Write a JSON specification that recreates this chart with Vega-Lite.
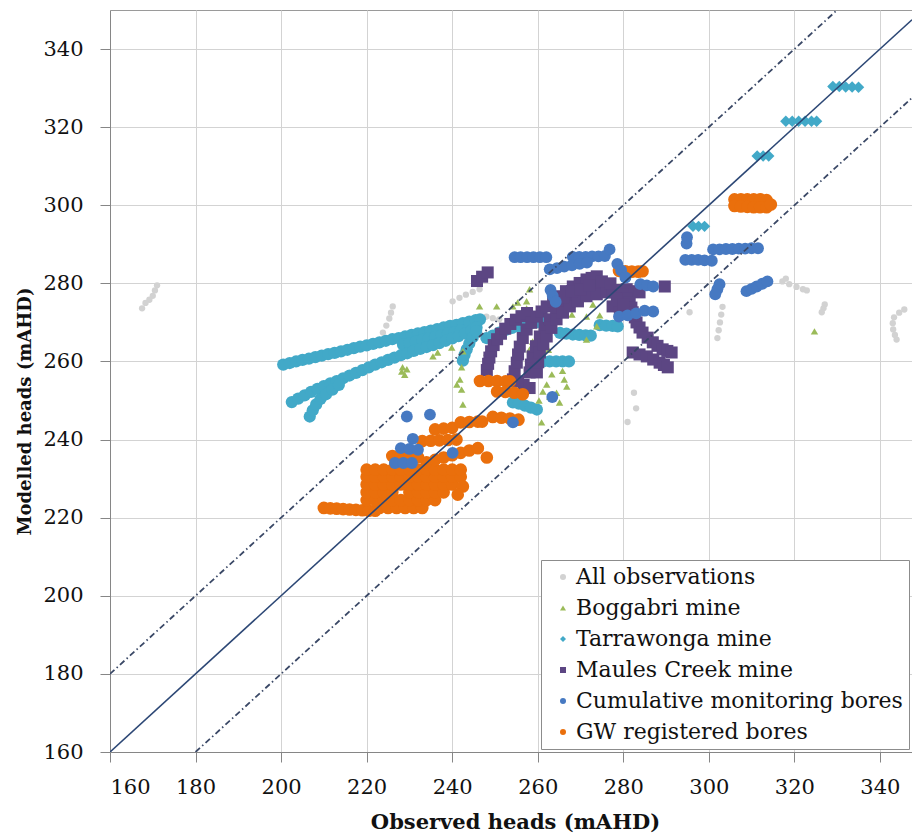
{
  "$schema": "https://vega.github.io/schema/vega-lite/v6.json",
  "width": 802,
  "height": 742,
  "autosize": {"type": "none"},
  "padding": {"left": 110, "top": 10, "right": 0, "bottom": 87},
  "background": "white",
  "config": {
    "view": {"stroke": "#9a9a9a", "strokeWidth": 1},
    "font": "DejaVu Serif",
    "legend": {
      "labelFont": "DejaVu Serif", "labelFontSize": 22, "labelColor": "#111111", "labelLimit": 400,
      "symbolSize": 36, "rowPadding": 9, "labelOffset": 2, "symbolOffset": 5, "padding": 6,
      "fillColor": "white", "strokeColor": "#8c8c8c"
    }
  },
  "datasets": {
    "points": [
      {"series":"A","obs":171,"mod":279.5},{"series":"A","obs":170.5,"mod":278.2},{"series":"A","obs":170,"mod":276.8},{"series":"A","obs":169.2,"mod":275.8},{"series":"A","obs":168.3,"mod":275},{"series":"A","obs":167.5,"mod":273.6},
      {"series":"A","obs":226.1,"mod":274.1},{"series":"A","obs":225.7,"mod":272.5},{"series":"A","obs":225.3,"mod":271},{"series":"A","obs":224.6,"mod":269.2},{"series":"A","obs":223.8,"mod":267.4},
      {"series":"A","obs":240.1,"mod":275.4},{"series":"A","obs":241.7,"mod":276.3},{"series":"A","obs":243.2,"mod":277.1},{"series":"A","obs":244.8,"mod":277.8},{"series":"A","obs":246.4,"mod":278.5},
      {"series":"A","obs":248,"mod":271.5},{"series":"A","obs":249.5,"mod":271.1},{"series":"A","obs":251,"mod":270.8},
      {"series":"A","obs":317.2,"mod":280.5},{"series":"A","obs":318.8,"mod":279.8},{"series":"A","obs":320.5,"mod":279.1},{"series":"A","obs":322,"mod":278.5},{"series":"A","obs":322.9,"mod":278.2},{"series":"A","obs":318,"mod":281.2},
      {"series":"A","obs":303.2,"mod":274},{"series":"A","obs":302.9,"mod":272},{"series":"A","obs":302.6,"mod":270},{"series":"A","obs":302.3,"mod":268},{"series":"A","obs":302,"mod":266},
      {"series":"A","obs":327.1,"mod":274.6},{"series":"A","obs":326.8,"mod":273.6},{"series":"A","obs":326.4,"mod":272.6},
      {"series":"A","obs":345.7,"mod":273.3},{"series":"A","obs":344.5,"mod":272.5},{"series":"A","obs":343.3,"mod":271.3},{"series":"A","obs":343,"mod":269.8},{"series":"A","obs":343.1,"mod":268.2},{"series":"A","obs":343.5,"mod":266.8},{"series":"A","obs":343.9,"mod":265.6},
      {"series":"A","obs":295.5,"mod":272.6},{"series":"A","obs":282.5,"mod":252},{"series":"A","obs":283,"mod":248},{"series":"A","obs":281,"mod":244.5},

      {"series":"T","obs":200.5,"mod":259.2},{"series":"T","obs":202,"mod":259.6},{"series":"T","obs":203.5,"mod":260.0},{"series":"T","obs":205,"mod":260.4},{"series":"T","obs":206.5,"mod":260.7},{"series":"T","obs":208,"mod":261.1},{"series":"T","obs":209.5,"mod":261.5},{"series":"T","obs":211,"mod":261.9},{"series":"T","obs":212.5,"mod":262.2},{"series":"T","obs":214,"mod":262.6},{"series":"T","obs":215.5,"mod":263.0},{"series":"T","obs":217,"mod":263.4},{"series":"T","obs":218.5,"mod":263.8},{"series":"T","obs":220,"mod":264.1},{"series":"T","obs":221.5,"mod":264.5},{"series":"T","obs":223,"mod":264.9},{"series":"T","obs":224.5,"mod":265.3},{"series":"T","obs":226,"mod":265.7},{"series":"T","obs":227.5,"mod":266.0},{"series":"T","obs":229,"mod":266.4},{"series":"T","obs":230.5,"mod":266.8},{"series":"T","obs":232,"mod":267.2},{"series":"T","obs":233.5,"mod":267.5},{"series":"T","obs":235,"mod":267.9},{"series":"T","obs":236.5,"mod":268.3},{"series":"T","obs":238,"mod":268.7},{"series":"T","obs":239.5,"mod":269.1},{"series":"T","obs":241,"mod":269.4},{"series":"T","obs":242.5,"mod":269.8},{"series":"T","obs":244,"mod":270.2},{"series":"T","obs":245.5,"mod":270.6},{"series":"T","obs":246.5,"mod":270.8},
      {"series":"T","obs":228.5,"mod":264.3},{"series":"T","obs":230,"mod":264.7},{"series":"T","obs":231.5,"mod":265.1},{"series":"T","obs":233,"mod":265.5},{"series":"T","obs":234.5,"mod":265.9},{"series":"T","obs":236,"mod":266.3},{"series":"T","obs":237.5,"mod":266.7},{"series":"T","obs":239,"mod":267.1},{"series":"T","obs":240.5,"mod":267.5},{"series":"T","obs":242,"mod":268.0},
      {"series":"T","obs":202.5,"mod":249.6},{"series":"T","obs":204,"mod":250.5},{"series":"T","obs":205.5,"mod":251.3},{"series":"T","obs":207,"mod":252.2},{"series":"T","obs":208.5,"mod":253.0},{"series":"T","obs":210,"mod":253.7},{"series":"T","obs":211.5,"mod":254.4},{"series":"T","obs":213,"mod":255.0},{"series":"T","obs":214.5,"mod":255.7},{"series":"T","obs":216,"mod":256.4},{"series":"T","obs":217.5,"mod":257.1},{"series":"T","obs":219,"mod":257.8},{"series":"T","obs":220.5,"mod":258.5},{"series":"T","obs":222,"mod":259.2},{"series":"T","obs":223.5,"mod":259.8},{"series":"T","obs":225,"mod":260.4},{"series":"T","obs":226.5,"mod":261.0},{"series":"T","obs":228,"mod":261.6},{"series":"T","obs":229.5,"mod":262.1},{"series":"T","obs":231,"mod":262.7},{"series":"T","obs":232.5,"mod":263.2},{"series":"T","obs":234,"mod":263.7},{"series":"T","obs":235.5,"mod":264.2},{"series":"T","obs":237,"mod":264.7},{"series":"T","obs":238.5,"mod":265.3},{"series":"T","obs":240,"mod":265.9},{"series":"T","obs":241.5,"mod":266.5},{"series":"T","obs":243,"mod":267.2},{"series":"T","obs":244.5,"mod":268.0},{"series":"T","obs":245.7,"mod":268.7},
      {"series":"T","obs":206.7,"mod":245.9},{"series":"T","obs":207.4,"mod":247.5},{"series":"T","obs":208.2,"mod":249},{"series":"T","obs":209.2,"mod":250.4},{"series":"T","obs":210.5,"mod":251.6},{"series":"T","obs":212,"mod":252.8},{"series":"T","obs":213.5,"mod":254},
      {"series":"T","obs":242.5,"mod":260.2},{"series":"T","obs":242.9,"mod":261.7},{"series":"T","obs":243.4,"mod":263.1},{"series":"T","obs":244,"mod":264.6},{"series":"T","obs":244.8,"mod":266.2},{"series":"T","obs":245.6,"mod":267.8},
      {"series":"T","obs":248,"mod":266},{"series":"T","obs":249.5,"mod":266.6},{"series":"T","obs":251,"mod":267.4},{"series":"T","obs":252.5,"mod":268.1},{"series":"T","obs":254,"mod":268.6},{"series":"T","obs":255.5,"mod":269},{"series":"T","obs":257,"mod":269.4},{"series":"T","obs":258.5,"mod":269.8},{"series":"T","obs":260,"mod":270.1},{"series":"T","obs":261.5,"mod":270.3},{"series":"T","obs":262.5,"mod":270.5},
      {"series":"T","obs":264.4,"mod":274.1},{"series":"T","obs":265.8,"mod":274.9},{"series":"T","obs":267.2,"mod":275.7},{"series":"T","obs":268.6,"mod":276.4},{"series":"T","obs":270,"mod":277},{"series":"T","obs":271.4,"mod":277.6},{"series":"T","obs":272.8,"mod":278.2},{"series":"T","obs":274.2,"mod":278.8},{"series":"T","obs":275.6,"mod":279.3},{"series":"T","obs":276.6,"mod":279.6},
      {"series":"T","obs":265.2,"mod":267.3},{"series":"T","obs":266.7,"mod":267.1},{"series":"T","obs":268.2,"mod":266.9},{"series":"T","obs":269.7,"mod":266.8},{"series":"T","obs":271.2,"mod":266.7},{"series":"T","obs":272.4,"mod":266.6},{"series":"T","obs":274.5,"mod":269.3},{"series":"T","obs":276,"mod":269.2},{"series":"T","obs":277.5,"mod":269.1},{"series":"T","obs":278.7,"mod":269},
      {"series":"T","obs":259.8,"mod":260},{"series":"T","obs":261.3,"mod":260},{"series":"T","obs":262.8,"mod":260},{"series":"T","obs":264.3,"mod":260},{"series":"T","obs":265.8,"mod":260},{"series":"T","obs":267.3,"mod":260},
      {"series":"T","obs":254.2,"mod":249.5},{"series":"T","obs":255.6,"mod":249.2},{"series":"T","obs":257,"mod":248.7},{"series":"T","obs":258.4,"mod":248.2},{"series":"T","obs":259.8,"mod":247.7},
      {"series":"T","obs":329,"mod":330.4},{"series":"T","obs":330.5,"mod":330.4},{"series":"T","obs":332,"mod":330.3},{"series":"T","obs":333.5,"mod":330.3},{"series":"T","obs":335,"mod":330.2},
      {"series":"T","obs":318,"mod":321.5},{"series":"T","obs":319.5,"mod":321.5},{"series":"T","obs":321,"mod":321.5},{"series":"T","obs":322.5,"mod":321.5},{"series":"T","obs":324,"mod":321.5},{"series":"T","obs":325.2,"mod":321.5},
      {"series":"T","obs":311.3,"mod":312.6},{"series":"T","obs":312.7,"mod":312.6},{"series":"T","obs":314,"mod":312.6},
      {"series":"T","obs":296.3,"mod":294.6},{"series":"T","obs":297.6,"mod":294.6},{"series":"T","obs":299,"mod":294.6},

      {"series":"B","obs":246.4,"mod":274.1},{"series":"B","obs":250.4,"mod":274.1},{"series":"B","obs":254.2,"mod":274.1},{"series":"B","obs":255.3,"mod":275.1},{"series":"B","obs":257.4,"mod":275.4},{"series":"B","obs":257.4,"mod":273.6},{"series":"B","obs":258.1,"mod":278.5},
      {"series":"B","obs":235.5,"mod":261.3},{"series":"B","obs":236.6,"mod":262.3},{"series":"B","obs":239.9,"mod":263.6},{"series":"B","obs":242.5,"mod":262.6},
      {"series":"B","obs":228.2,"mod":257.4},{"series":"B","obs":228.9,"mod":256.6},{"series":"B","obs":229.4,"mod":258},{"series":"B","obs":228.4,"mod":258.5},
      {"series":"B","obs":242.2,"mod":258.5},{"series":"B","obs":241.8,"mod":255.4},{"series":"B","obs":241.1,"mod":254.1},{"series":"B","obs":242.2,"mod":252.8},{"series":"B","obs":242.5,"mod":249},{"series":"B","obs":248.1,"mod":262.3},
      {"series":"B","obs":258.8,"mod":265.1},{"series":"B","obs":258.1,"mod":263.1},{"series":"B","obs":259.3,"mod":261.8},{"series":"B","obs":261,"mod":262.5},{"series":"B","obs":262.5,"mod":263},
      {"series":"B","obs":263.3,"mod":256.7},{"series":"B","obs":262.1,"mod":254.1},{"series":"B","obs":261.2,"mod":252.3},{"series":"B","obs":260.3,"mod":250},{"series":"B","obs":260.9,"mod":244.4},{"series":"B","obs":262.8,"mod":251},
      {"series":"B","obs":265.8,"mod":257.6},{"series":"B","obs":266.2,"mod":255.4},{"series":"B","obs":266.8,"mod":253.6},{"series":"B","obs":265.1,"mod":249.5},{"series":"B","obs":264.4,"mod":252},
      {"series":"B","obs":271.4,"mod":271.5},{"series":"B","obs":272.9,"mod":274.6},{"series":"B","obs":273.8,"mod":269},{"series":"B","obs":274.5,"mod":271.8},{"series":"B","obs":271.4,"mod":265.6},{"series":"B","obs":268,"mod":272},
      {"series":"B","obs":324.7,"mod":267.7},

      {"series":"M","obs":245.8,"mod":280.6},{"series":"M","obs":247,"mod":281.7},{"series":"M","obs":248.3,"mod":282.8},
      {"series":"M","obs":248.1,"mod":257.8},{"series":"M","obs":248.4,"mod":259.4},{"series":"M","obs":248.7,"mod":261},{"series":"M","obs":249.1,"mod":262.6},{"series":"M","obs":249.7,"mod":264.2},{"series":"M","obs":250.5,"mod":265.7},{"series":"M","obs":251.4,"mod":267.1},{"series":"M","obs":252.4,"mod":268.4},{"series":"M","obs":253.6,"mod":269.6},{"series":"M","obs":254.9,"mod":270.7},{"series":"M","obs":256.2,"mod":271.6},{"series":"M","obs":257.5,"mod":272.4},
      {"series":"M","obs":254.2,"mod":255.4},{"series":"M","obs":254.6,"mod":257.5},{"series":"M","obs":255.1,"mod":259.7},{"series":"M","obs":255.4,"mod":261.8},{"series":"M","obs":255.8,"mod":263.8},{"series":"M","obs":256.5,"mod":266},{"series":"M","obs":257.4,"mod":268.2},{"series":"M","obs":258.5,"mod":269.9},{"series":"M","obs":259.8,"mod":271.5},{"series":"M","obs":260.9,"mod":272.8},{"series":"M","obs":262.1,"mod":274.1},{"series":"M","obs":263.6,"mod":275.4},{"series":"M","obs":265.1,"mod":276.7},{"series":"M","obs":266.6,"mod":278},{"series":"M","obs":268.2,"mod":279.2},{"series":"M","obs":269.8,"mod":280.1},{"series":"M","obs":271.4,"mod":281},{"series":"M","obs":272.6,"mod":281.4},{"series":"M","obs":273.8,"mod":281.8},
      {"series":"M","obs":255.4,"mod":254.9},{"series":"M","obs":256.7,"mod":254},{"series":"M","obs":258.1,"mod":253.2},
      {"series":"M","obs":258.1,"mod":257.2},{"series":"M","obs":258.4,"mod":259.2},{"series":"M","obs":258.8,"mod":261.3},{"series":"M","obs":259.6,"mod":263.9},{"series":"M","obs":260.5,"mod":266.4},{"series":"M","obs":261.6,"mod":268.6},{"series":"M","obs":262.8,"mod":270.8},{"series":"M","obs":264.3,"mod":272.5},{"series":"M","obs":265.8,"mod":274.1},{"series":"M","obs":267.4,"mod":275.4},{"series":"M","obs":269.1,"mod":276.7},{"series":"M","obs":271,"mod":277.3},{"series":"M","obs":272.9,"mod":277.9},{"series":"M","obs":274.5,"mod":278.5},{"series":"M","obs":276.1,"mod":279},
      {"series":"M","obs":259.8,"mod":257.2},{"series":"M","obs":260.1,"mod":259.8},{"series":"M","obs":260.5,"mod":262.3},{"series":"M","obs":261.3,"mod":264.4},{"series":"M","obs":262.1,"mod":266.4},{"series":"M","obs":263.2,"mod":268.6},{"series":"M","obs":264.4,"mod":270.8},{"series":"M","obs":265.9,"mod":272.5},{"series":"M","obs":267.5,"mod":274.1},{"series":"M","obs":269.4,"mod":275.4},{"series":"M","obs":271.4,"mod":276.7},{"series":"M","obs":273.8,"mod":277.2},{"series":"M","obs":276.1,"mod":277.7},
      {"series":"M","obs":277.5,"mod":277.7},{"series":"M","obs":279.2,"mod":278.3},{"series":"M","obs":280.8,"mod":278.5},{"series":"M","obs":282.3,"mod":278},{"series":"M","obs":283.8,"mod":277.7},{"series":"M","obs":279.9,"mod":277.2},{"series":"M","obs":280.8,"mod":276.2},{"series":"M","obs":281.5,"mod":275.1},{"series":"M","obs":281.9,"mod":273.8},{"series":"M","obs":282.2,"mod":272.6},{"series":"M","obs":282.7,"mod":271.3},{"series":"M","obs":283.1,"mod":270},{"series":"M","obs":283.8,"mod":268.7},{"series":"M","obs":284.5,"mod":267.4},{"series":"M","obs":285.7,"mod":266.1},{"series":"M","obs":286.9,"mod":264.9},{"series":"M","obs":288,"mod":264},{"series":"M","obs":289.2,"mod":263.1},{"series":"M","obs":290.3,"mod":262.7},{"series":"M","obs":291.3,"mod":262.3},
      {"series":"M","obs":282.2,"mod":262.3},{"series":"M","obs":283.8,"mod":261.8},{"series":"M","obs":285.5,"mod":261.3},{"series":"M","obs":287,"mod":260.5},{"series":"M","obs":288.5,"mod":259.7},{"series":"M","obs":289.5,"mod":259.1},{"series":"M","obs":290.4,"mod":258.5},
      {"series":"M","obs":277.5,"mod":274.1},{"series":"M","obs":279.2,"mod":272.6},{"series":"M","obs":289.7,"mod":279.2},
      {"series":"M","obs":266,"mod":276.5},{"series":"M","obs":268,"mod":278},{"series":"M","obs":270,"mod":278.5},{"series":"M","obs":272,"mod":279.5},{"series":"M","obs":275,"mod":280.5},{"series":"M","obs":277,"mod":280},{"series":"M","obs":278.5,"mod":276},{"series":"M","obs":280,"mod":274.5},

      {"series":"G","obs":210,"mod":222.5},{"series":"G","obs":211.5,"mod":222.4},{"series":"G","obs":213,"mod":222.3},{"series":"G","obs":214.5,"mod":222.2},{"series":"G","obs":216,"mod":222.1},{"series":"G","obs":217.5,"mod":222},{"series":"G","obs":219,"mod":221.9},{"series":"G","obs":220.5,"mod":221.8},{"series":"G","obs":222,"mod":221.8},
      {"series":"G","obs":223,"mod":222.5},{"series":"G","obs":225,"mod":222.5},{"series":"G","obs":227,"mod":222.5},{"series":"G","obs":229,"mod":222.5},{"series":"G","obs":231,"mod":222.5},{"series":"G","obs":233,"mod":222.5},
      {"series":"G","obs":220,"mod":224.5},{"series":"G","obs":222,"mod":224.5},{"series":"G","obs":224,"mod":224.5},{"series":"G","obs":226,"mod":224.5},{"series":"G","obs":228,"mod":224.5},{"series":"G","obs":230,"mod":224.5},{"series":"G","obs":232,"mod":224.5},{"series":"G","obs":234,"mod":224.5},{"series":"G","obs":236,"mod":224.5},
      {"series":"G","obs":220,"mod":226.5},{"series":"G","obs":222,"mod":226.5},{"series":"G","obs":224,"mod":226.5},{"series":"G","obs":226,"mod":226.5},{"series":"G","obs":230,"mod":226.5},{"series":"G","obs":232,"mod":226.5},{"series":"G","obs":234,"mod":226.5},{"series":"G","obs":236,"mod":226.5},{"series":"G","obs":238,"mod":226.5},
      {"series":"G","obs":220,"mod":228.5},{"series":"G","obs":222,"mod":228.5},{"series":"G","obs":224,"mod":228.5},{"series":"G","obs":226,"mod":228.5},{"series":"G","obs":228,"mod":228.5},{"series":"G","obs":230,"mod":228.5},{"series":"G","obs":232,"mod":228.5},{"series":"G","obs":234,"mod":228.5},{"series":"G","obs":236,"mod":228.5},{"series":"G","obs":238,"mod":228.5},{"series":"G","obs":240,"mod":228.5},
      {"series":"G","obs":220,"mod":230.5},{"series":"G","obs":222,"mod":230.5},{"series":"G","obs":224,"mod":230.5},{"series":"G","obs":226,"mod":230.5},{"series":"G","obs":228,"mod":230.5},{"series":"G","obs":230,"mod":230.5},{"series":"G","obs":232,"mod":230.5},{"series":"G","obs":234,"mod":230.5},{"series":"G","obs":236,"mod":230.5},{"series":"G","obs":238,"mod":230.5},{"series":"G","obs":240,"mod":230.5},{"series":"G","obs":242,"mod":230.5},
      {"series":"G","obs":220,"mod":232.3},{"series":"G","obs":222,"mod":232.3},{"series":"G","obs":224,"mod":232.3},{"series":"G","obs":226,"mod":232.3},{"series":"G","obs":228,"mod":232.3},{"series":"G","obs":230,"mod":232.3},{"series":"G","obs":232,"mod":232.3},{"series":"G","obs":234,"mod":232.3},{"series":"G","obs":236,"mod":232.3},{"series":"G","obs":238,"mod":232.3},{"series":"G","obs":240,"mod":232.3},{"series":"G","obs":242,"mod":232.3},
      {"series":"G","obs":234,"mod":234.2},{"series":"G","obs":236,"mod":234.8},{"series":"G","obs":238,"mod":235.4},{"series":"G","obs":240,"mod":236},{"series":"G","obs":242,"mod":236.6},{"series":"G","obs":244,"mod":237.2},{"series":"G","obs":246,"mod":237.8},
      {"series":"G","obs":248.1,"mod":235.4},{"series":"G","obs":242.5,"mod":228},{"series":"G","obs":241.3,"mod":225.9},
      {"series":"G","obs":226,"mod":235.8},{"series":"G","obs":228,"mod":235.7},{"series":"G","obs":230,"mod":235.6},{"series":"G","obs":232,"mod":235.5},
      {"series":"G","obs":233,"mod":239.6},{"series":"G","obs":235,"mod":239.7},{"series":"G","obs":237,"mod":239.8},{"series":"G","obs":239,"mod":239.9},{"series":"G","obs":241,"mod":240},
      {"series":"G","obs":236,"mod":242.6},{"series":"G","obs":238,"mod":242.8},{"series":"G","obs":240,"mod":243},{"series":"G","obs":242,"mod":244.4},{"series":"G","obs":244,"mod":244.5},{"series":"G","obs":246,"mod":244.6},{"series":"G","obs":247,"mod":244.6},
      {"series":"G","obs":246.5,"mod":255},{"series":"G","obs":248.5,"mod":255},{"series":"G","obs":250.5,"mod":255},{"series":"G","obs":252.5,"mod":254.9},{"series":"G","obs":253.5,"mod":254.9},
      {"series":"G","obs":250.5,"mod":252.3},{"series":"G","obs":252.5,"mod":252.2},{"series":"G","obs":254.5,"mod":252},{"series":"G","obs":256.5,"mod":251.6},
      {"series":"G","obs":249.5,"mod":245.8},{"series":"G","obs":251.5,"mod":245.6},{"series":"G","obs":253.5,"mod":245.4},{"series":"G","obs":255.5,"mod":245.1},
      {"series":"G","obs":306,"mod":301.5},{"series":"G","obs":307.5,"mod":301.5},{"series":"G","obs":309,"mod":301.5},{"series":"G","obs":310.5,"mod":301.5},{"series":"G","obs":312,"mod":301.5},{"series":"G","obs":313.5,"mod":301.3},{"series":"G","obs":306,"mod":299.8},{"series":"G","obs":307.5,"mod":299.7},{"series":"G","obs":309,"mod":299.6},{"series":"G","obs":310.5,"mod":299.5},{"series":"G","obs":312,"mod":299.5},{"series":"G","obs":313.5,"mod":299.5},{"series":"G","obs":314.5,"mod":300.2},
      {"series":"G","obs":279,"mod":283.2},{"series":"G","obs":280.5,"mod":283.1},{"series":"G","obs":282,"mod":283},{"series":"G","obs":283.5,"mod":283},{"series":"G","obs":284.5,"mod":283.1},

      {"series":"C","obs":294.8,"mod":290.2},{"series":"C","obs":294.9,"mod":291.8},
      {"series":"C","obs":301,"mod":288.7},{"series":"C","obs":302.5,"mod":288.7},{"series":"C","obs":304,"mod":288.8},{"series":"C","obs":305.5,"mod":288.8},{"series":"C","obs":307,"mod":288.9},{"series":"C","obs":308.5,"mod":288.9},{"series":"C","obs":310,"mod":289},{"series":"C","obs":311.5,"mod":289},
      {"series":"C","obs":294.5,"mod":286},{"series":"C","obs":296,"mod":286},{"series":"C","obs":297.5,"mod":286},{"series":"C","obs":299,"mod":285.9},{"series":"C","obs":300.7,"mod":285.8},
      {"series":"C","obs":302.5,"mod":279.8},{"series":"C","obs":302,"mod":278.5},{"series":"C","obs":301.5,"mod":277.2},
      {"series":"C","obs":308.8,"mod":278},{"series":"C","obs":310,"mod":278.6},{"series":"C","obs":311.2,"mod":279.2},{"series":"C","obs":312.5,"mod":279.9},{"series":"C","obs":313.7,"mod":280.5},
      {"series":"C","obs":284,"mod":279.8},{"series":"C","obs":285.5,"mod":279.5},{"series":"C","obs":287,"mod":279.2},
      {"series":"C","obs":279,"mod":271.5},{"series":"C","obs":281,"mod":271.8},{"series":"C","obs":283,"mod":272.3},{"series":"C","obs":285,"mod":273},{"series":"C","obs":287,"mod":272.8},
      {"series":"C","obs":254.6,"mod":286.7},{"series":"C","obs":256,"mod":286.7},{"series":"C","obs":257.5,"mod":286.7},{"series":"C","obs":259,"mod":286.7},{"series":"C","obs":260.5,"mod":286.7},{"series":"C","obs":262,"mod":286.7},
      {"series":"C","obs":268.2,"mod":286.8},{"series":"C","obs":269.7,"mod":286.8},{"series":"C","obs":271.2,"mod":286.8},{"series":"C","obs":272.7,"mod":286.9},{"series":"C","obs":274.2,"mod":286.9},{"series":"C","obs":275.7,"mod":287},{"series":"C","obs":276.8,"mod":288.7},
      {"series":"C","obs":262.8,"mod":283.6},{"series":"C","obs":264.5,"mod":283.9},{"series":"C","obs":266.2,"mod":284.3},{"series":"C","obs":268,"mod":284.6},{"series":"C","obs":269.8,"mod":285},{"series":"C","obs":271.5,"mod":285.3},
      {"series":"C","obs":263,"mod":278.3},{"series":"C","obs":263.5,"mod":276.8},{"series":"C","obs":264.2,"mod":275.3},
      {"series":"C","obs":278.6,"mod":285},{"series":"C","obs":279.5,"mod":283.3},{"series":"C","obs":280.5,"mod":281.5},
      {"series":"C","obs":229.4,"mod":245.9},{"series":"C","obs":234.8,"mod":246.4},{"series":"C","obs":230.8,"mod":240.2},{"series":"C","obs":228,"mod":237.8},{"series":"C","obs":230,"mod":237.6},{"series":"C","obs":232,"mod":237.4},{"series":"C","obs":226.6,"mod":234},{"series":"C","obs":228.6,"mod":234},{"series":"C","obs":230.6,"mod":234},{"series":"C","obs":240.1,"mod":236.6},{"series":"C","obs":254.2,"mod":244.4},{"series":"C","obs":263.4,"mod":250.9}
    ],
    "refLines": [
      {"line":"1:1","obs":160,"mod":160},{"line":"1:1","obs":347.5,"mod":347.5},
      {"line":"+20","obs":160,"mod":180},{"line":"+20","obs":330,"mod":350},
      {"line":"-20","obs":180,"mod":160},{"line":"-20","obs":347.5,"mod":327.5}
    ]
  },
  "layer": [
    {
      "data": {"name": "points"},
      "encoding": {
        "x": {
          "field": "obs", "type": "quantitative",
          "scale": {"domain": [160, 347.5], "nice": false, "zero": false},
          "axis": {
            "values": [160, 180, 200, 220, 240, 260, 280, 300, 320, 340],
            "grid": true, "gridColor": "#d3d3d3", "gridWidth": 1,
            "domainColor": "#868686", "tickColor": "#868686", "tickSize": 10,
            "labelFont": "DejaVu Serif", "labelFontSize": 21, "labelColor": "#111111", "labelPadding": 14,
            "title": "Observed heads (mAHD)", "titleFont": "DejaVu Serif", "titleFontSize": 21, "titleFontWeight": "bold", "titleColor": "#111111",
            "titleX": 405, "titleY": 70, "titleBaseline": "middle"
          }
        },
        "y": {
          "field": "mod", "type": "quantitative",
          "scale": {"domain": [160, 350], "nice": false, "zero": false},
          "axis": {
            "values": [160, 180, 200, 220, 240, 260, 280, 300, 320, 340],
            "grid": true, "gridColor": "#d3d3d3", "gridWidth": 1,
            "domainColor": "#868686", "tickColor": "#868686", "tickSize": 10,
            "labelFont": "DejaVu Serif", "labelFontSize": 21, "labelColor": "#111111", "labelPadding": 17,
            "title": "Modelled heads (mAHD)", "titleFont": "DejaVu Serif", "titleFontSize": 18, "titleFontWeight": "bold", "titleColor": "#111111",
            "titleX": -85, "titleY": 401, "titleBaseline": "middle", "titleAngle": 270
          }
        },
        "color": {
          "field": "series", "type": "nominal",
          "scale": {"domain": ["A", "B", "T", "M", "C", "G"], "range": ["#d2d2d2", "#9bbb59", "#42a9c8", "#5c4683", "#4679c2", "#ea6f0c"]},
          "legend": {
            "orient": "none", "legendX": 431, "legendY": 550, "title": null,
            "labelFont": "DejaVu Serif", "labelFontSize": 22,
            "labelExpr": "datum.label == 'A' ? 'All observations' : datum.label == 'B' ? 'Boggabri mine' : datum.label == 'T' ? 'Tarrawonga mine' : datum.label == 'M' ? 'Maules Creek mine' : datum.label == 'C' ? 'Cumulative monitoring bores' : 'GW registered bores'"
          }
        },
        "shape": {
          "field": "series", "type": "nominal",
          "scale": {"domain": ["A", "B", "T", "M", "C", "G"], "range": ["circle", "triangle-up", "diamond", "square", "circle", "circle"]},
          "legend": {
            "orient": "none", "legendX": 431, "legendY": 550, "title": null,
            "labelFont": "DejaVu Serif", "labelFontSize": 22,
            "labelExpr": "datum.label == 'A' ? 'All observations' : datum.label == 'B' ? 'Boggabri mine' : datum.label == 'T' ? 'Tarrawonga mine' : datum.label == 'M' ? 'Maules Creek mine' : datum.label == 'C' ? 'Cumulative monitoring bores' : 'GW registered bores'"
          }
        }
      },
      "layer": [
        {"transform": [{"filter": "datum.series == 'A'"}], "mark": {"type": "point", "filled": true, "opacity": 1, "size": 40, "clip": true}},
        {"transform": [{"filter": "datum.series == 'T' && datum.obs < 290"}], "mark": {"type": "point", "filled": true, "opacity": 1, "size": 150, "clip": true}, "encoding": {"shape": {"value": "circle"}}},
        {"transform": [{"filter": "datum.series == 'T' && datum.obs >= 290"}], "mark": {"type": "point", "filled": true, "opacity": 1, "size": 130, "clip": true}},
        {"transform": [{"filter": "datum.series == 'B'"}], "mark": {"type": "point", "filled": true, "opacity": 1, "size": 55, "clip": true}},
        {"transform": [{"filter": "datum.series == 'M'"}], "mark": {"type": "point", "filled": true, "opacity": 1, "size": 145, "clip": true}},
        {"transform": [{"filter": "datum.series == 'G'"}], "mark": {"type": "point", "filled": true, "opacity": 1, "size": 160, "clip": true}},
        {"transform": [{"filter": "datum.series == 'C'"}], "mark": {"type": "point", "filled": true, "opacity": 1, "size": 140, "clip": true}}
      ]
    },
    {
      "data": {"name": "refLines"},
      "transform": [{"filter": "datum.line == '1:1'"}],
      "mark": {"type": "line", "color": "#2c4775", "strokeWidth": 1.6, "clip": true},
      "encoding": {
        "x": {"field": "obs", "type": "quantitative"},
        "y": {"field": "mod", "type": "quantitative"},
        "detail": {"field": "line"}
      }
    },
    {
      "data": {"name": "refLines"},
      "transform": [{"filter": "datum.line != '1:1'"}],
      "mark": {"type": "line", "color": "#3a4866", "strokeWidth": 1.8, "strokeDash": [6, 3, 1.5, 3], "clip": true},
      "encoding": {
        "x": {"field": "obs", "type": "quantitative"},
        "y": {"field": "mod", "type": "quantitative"},
        "detail": {"field": "line"}
      }
    }
  ]
}
